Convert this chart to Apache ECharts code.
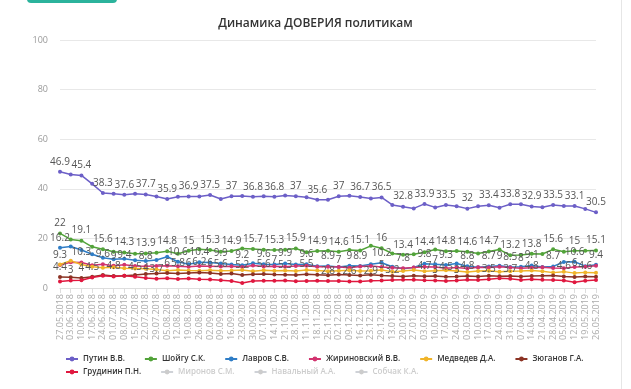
<!DOCTYPE html>
<html><head><meta charset="utf-8">
<script src="https://cdn.jsdelivr.net/npm/echarts@6/dist/echarts.min.js"></script>
<style>html,body{margin:0;padding:0;background:#fff;}#c{width:631px;height:389px;}</style>
</head><body><div id="c"></div>
<script>
const dates = ["27.05.2018","03.06.2018","10.06.2018","17.06.2018","24.06.2018","01.07.2018","08.07.2018","15.07.2018","22.07.2018","29.07.2018","05.08.2018","12.08.2018","19.08.2018","26.08.2018","02.09.2018","09.09.2018","16.09.2018","23.09.2018","30.09.2018","07.10.2018","14.10.2018","21.10.2018","28.10.2018","11.11.2018","18.11.2018","25.11.2018","02.12.2018","09.12.2018","16.12.2018","23.12.2018","29.12.2018","13.01.2019","20.01.2019","27.01.2019","03.02.2019","10.02.2019","17.02.2019","24.02.2019","03.03.2019","10.03.2019","17.03.2019","24.03.2019","31.03.2019","07.04.2019","14.04.2019","21.04.2019","28.04.2019","05.05.2019","12.05.2019","19.05.2019","26.05.2019"];
const putin = [46.9,45.8,45.4,42.0,38.3,38.0,37.6,38.0,37.7,36.9,35.9,36.8,36.9,36.9,37.5,35.9,37,37.1,36.8,37.0,36.8,37.3,37,36.6,35.6,35.6,37,37.2,36.7,36.1,36.5,33.5,32.8,32.1,33.9,32.5,33.5,33.0,32,33.0,33.4,32.4,33.8,33.8,32.9,32.6,33.5,33.1,33.1,31.9,30.5];
const shoigu = [22,19.6,19.1,16.6,15.6,14.6,14.3,13.8,13.9,14.2,14.8,13.8,15,15.6,15.3,14.6,14.9,15.9,15.7,15.4,15.3,15.4,15.9,14.4,14.9,15.0,14.6,15.3,15.1,17.0,16,13.9,13.4,13.6,14.4,15.5,14.8,14.9,14.6,13.9,14.7,15.5,13.2,13.3,13.8,13.7,15.6,14.6,15,15.0,15.1];
const lavrov = [16.2,16.7,15.3,13.6,12.2,11.6,11.8,11.2,10.9,11.3,12.6,10.6,9.6,10.4,10.3,9.9,9.5,9.2,10,9.6,9.5,9.9,9.5,9.6,8.8,8.9,8.5,9,8.9,9.6,10.2,8.6,7.8,8.3,9.8,9.6,9.3,9.9,8.8,8.4,8.7,9,8.5,8.6,9.1,8.5,8.7,10.5,10.6,8.8,9.4];
const zhirinovsky = [9.3,10.4,10.3,9.2,9.6,9.0,9.4,8.9,8.8,8.9,9.0,8.8,8.6,8.9,8.8,8.7,8.8,8.5,9.1,8.7,8.8,8.6,8.9,9.0,8.6,8.6,8.5,8.2,8.7,8.9,8.5,8.2,8.0,8.3,8.6,8.5,8.0,8.3,7.9,8.4,8.3,8.6,8.3,8.0,8.2,8.4,8.1,8.0,8.5,8.6,9.0];
const medvedev = [9.5,11.0,9.5,8.6,8.2,8.4,8.0,7.9,7.8,7.5,7.0,7.3,7.1,7.0,7.2,7.0,7.1,7.3,6.8,7.2,7.0,7.1,6.9,7.3,7.1,6.8,7.0,7.2,6.9,7.0,7.3,6.6,6.9,7.3,6.8,7.0,7.2,6.9,6.5,6.9,7.0,6.6,6.8,6.9,7.1,6.8,6.2,6.6,6.0,6.3,6.1];
const zyuganov = [4.4,4.3,4.0,4.5,5.2,4.8,4.9,5.2,5.6,5.8,6.0,5.8,6.0,6.2,6.0,5.6,5.8,5.2,5.5,5.6,5.4,5.3,5.2,5.5,5.3,5.1,5.4,5.2,5.0,5.3,5.0,4.8,4.6,4.9,4.7,4.8,4.5,4.6,4.8,4.6,4.9,4.7,4.8,4.6,4.8,4.9,5.0,4.6,4.4,4.6,4.5];
const grudinin = [2.6,3.0,3.1,4.2,4.9,4.6,4.9,4.5,4.0,3.7,3.9,3.6,3.8,3.5,3.4,3.1,2.8,2.0,2.8,2.9,2.9,3.0,2.7,2.8,2.9,2.8,2.8,2.6,2.6,2.9,3.0,3.2,3.3,3.3,3.1,3.0,2.8,3.0,3.3,3.2,3.5,3.9,3.7,3.2,3.5,3.3,3.2,3.0,2.3,2.9,3.2];
const mironov = [];
const navalny = [];
const sobchak = [];
const yTicks = [0,20,40,60,80,100];

const names = ["Путин В.В.","Шойгу С.К.","Лавров С.В.","Жириновский В.В.","Медведев Д.А.","Зюганов Г.А.","Грудинин П.Н.","Миронов С.М.","Навальный А.А.","Собчак К.А."];
const values = [putin,shoigu,lavrov,zhirinovsky,medvedev,zyuganov,grudinin,mironov,navalny,sobchak];
const colors = ["#6c5fc7","#52a33a","#2f7dc6","#d2336f","#f0b429","#8b3324","#e0183f","#9aa0a6","#7fb3d5","#c39bd3"];

const series = names.map((n,i)=>({
  name:n, type:'line', data:values[i], color:colors[i],
  symbol:'circle', symbolSize:4, showSymbol:true,
  lineStyle:{width:1.5},
  label:{show:true, position:'top', distance:3, fontSize:10, color:'#555', fontFamily:'Open Sans'},
  labelLayout:{hideOverlap:true},
  animation:false
}));

const legendText = {fontSize:8, fontWeight:600, color:'#333', fontFamily:'Open Sans'};
const chart = echarts.init(document.getElementById('c'), null, {renderer:'canvas'});
chart.setOption({
  animation:false,
  title:{text:'Динамика ДОВЕРИЯ политикам', left:'center', top:13,
    textStyle:{fontSize:12, fontWeight:600, color:'#333', fontFamily:'Open Sans'}},
  color:colors,
  grid:{left:60, right:35, top:40, bottom:101},
  legend:[
    {data:names.slice(0,6), left:60, top:350, itemGap:19, itemWidth:12, itemHeight:6, textStyle:legendText, inactiveColor:'#ccc'},
    {data:names.slice(6), left:60, top:363, itemGap:19, itemWidth:12, itemHeight:6, textStyle:legendText, inactiveColor:'#ccc',
     selected:{"Миронов С.М.":false,"Навальный А.А.":false,"Собчак К.А.":false}}
  ],
  xAxis:{type:'category', data:dates, boundaryGap:false,
    axisLine:{lineStyle:{color:'#ddd'}},
    axisTick:{show:true, alignWithLabel:true, lineStyle:{color:'#ddd'}},
    axisLabel:{interval:0, rotate:90, fontSize:9, color:'#aaa', fontFamily:'Open Sans', margin:6}},
  yAxis:{type:'value', min:yTicks[0], max:yTicks[yTicks.length-1], interval:20,
    axisLine:{show:false}, axisTick:{show:false},
    splitLine:{lineStyle:{color:'#e8e8e8'}},
    axisLabel:{fontSize:9, color:'#999', fontFamily:'Open Sans', margin:12}},
  graphic:[
    {type:'rect', shape:{x:27, y:-6, width:90, height:9, r:4}, style:{fill:'#2bb39c'}},
    {type:'line', shape:{x1:621.5, y1:0, x2:621.5, y2:389}, style:{stroke:'#e6e6e6', lineWidth:1}}
  ],
  series:series
});
</script></body></html>
